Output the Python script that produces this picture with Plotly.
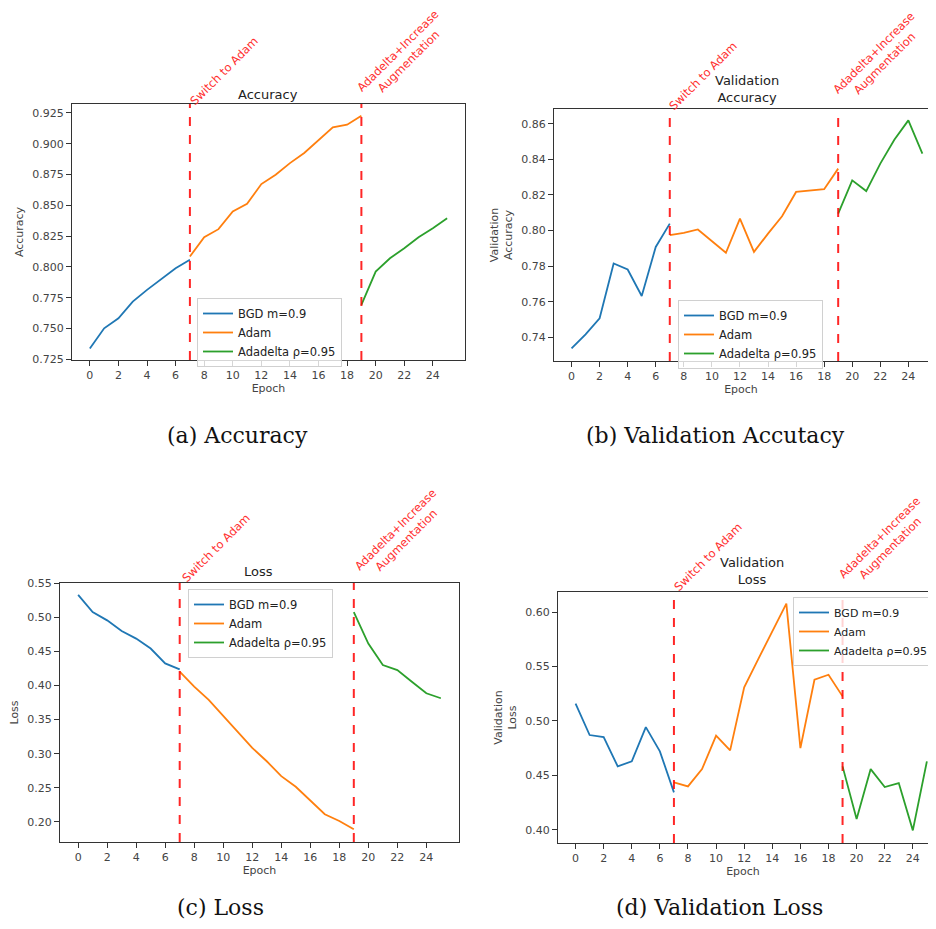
"""Four-panel training history figure (accuracy / loss) rebuilt with Plotly."""
import plotly.graph_objects as go

# the page body keeps its default 8px margin; size the figure to fit inside it
OFF = 8
W, H = 936 - 2 * OFF, 929 - 2 * OFF

# ---- data -------------------------------------------------------------
epochs_bgd = [0, 1, 2, 3, 4, 5, 6, 7]
epochs_adam = [7, 8, 9, 10, 11, 12, 13, 14, 15, 16, 17, 18, 19]
epochs_adadelta = [19, 20, 21, 22, 23, 24, 25]

acc_bgd = [0.7339, 0.7502, 0.7583, 0.7719, 0.7814, 0.7900, 0.7990, 0.8058]
acc_adam = [0.8085, 0.8242, 0.8307, 0.8451, 0.8513, 0.8673, 0.8749,
            0.8843, 0.8925, 0.9033, 0.9133, 0.9155, 0.9228]
acc_adadelta = [0.7692, 0.7963, 0.8071, 0.8152, 0.8242, 0.8315, 0.8396]

val_acc_bgd = [0.7338, 0.7417, 0.7507, 0.7815, 0.7781, 0.7632, 0.7908, 0.8039]
val_acc_adam = [0.7974, 0.7987, 0.8006, 0.7942, 0.7875, 0.8067, 0.7880,
                0.7983, 0.8080, 0.8217, 0.8226, 0.8232, 0.8348]
val_acc_adadelta = [0.8095, 0.8282, 0.8222, 0.8376, 0.8510, 0.8619, 0.8432]

loss_bgd = [0.5330, 0.5077, 0.4955, 0.4800, 0.4688, 0.4542, 0.4324, 0.4236]
loss_adam = [0.4202, 0.3983, 0.3789, 0.3555, 0.3327, 0.3084, 0.2889,
             0.2671, 0.2515, 0.2306, 0.2112, 0.2014, 0.1893]
loss_adadelta = [0.5077, 0.4615, 0.4299, 0.4226, 0.4056, 0.3886, 0.3813]

val_loss_bgd = [0.5158, 0.4870, 0.4851, 0.4582, 0.4628, 0.4943, 0.4720, 0.4343]
val_loss_adam = [0.4435, 0.4398, 0.4557, 0.4864, 0.4729, 0.5308, 0.5568,
                 0.5828, 0.6077, 0.4750, 0.5378, 0.5424, 0.5225]
val_loss_adadelta = [0.4582, 0.4098, 0.4557, 0.4392, 0.4429, 0.3994, 0.4628]

series_names = ["BGD m=0.9", "Adam", "Adadelta ρ=0.95"]
switch_epochs = [7, 19]
switch_labels = ["Switch to Adam", "Adadelta+Increase<br>Augmentation"]
x_ticks = list(range(0, 26, 2))

COLORS = ["#1f77b4", "#ff7f0e", "#2ca02c"]


def px_x(x):
    """Screen pixel column -> paper x."""
    return min(max((x - OFF) / W, 0), 1)


def px_y(y):
    """Screen pixel row -> paper y."""
    return min(max(1 - (y - OFF) / H, 0), 1)


# panel geometry in screen pixels: (left, right, top, bottom) and axis ranges.
# The right-hand panels run off the edge of the original image, so their
# x range stops where the visible part ends and no right frame is drawn.
PANELS = [
    dict(box=(72, 465, 104, 360), xr=[-1.25, 26.25], yr=[0.7245, 0.9323],
         dtick=0.025, fmt=".3f", title="Accuracy", title_xy=(268, 94),
         ylabel="Accuracy", data=(acc_bgd, acc_adam, acc_adadelta),
         legend=(197, 298, 11.5), notes=[(224, 71), (403, 57)], clipped=False,
         caption="(a) Accuracy", caption_xy=(237, 435)),
    dict(box=(554, 928, 109, 361), xr=[-1.25, 25.4], yr=[0.7267, 0.8683],
         dtick=0.02, fmt=".2f", title="Validation<br>Accuracy", title_xy=(747, 89),
         ylabel="Validation<br>Accuracy", data=(val_acc_bgd, val_acc_adam, val_acc_adadelta),
         legend=(678, 300, 11.5), notes=[(703, 76), (879, 59)], clipped=True,
         caption="(b) Validation Accutacy", caption_xy=(715, 435)),
    dict(box=(60, 459, 583, 842), xr=[-1.25, 26.25], yr=[0.1705, 0.5503],
         dtick=0.05, fmt=".2f", title="Loss", title_xy=(259, 571),
         ylabel="Loss", data=(loss_bgd, loss_adam, loss_adadelta),
         legend=(188, 589, 11.5), notes=[(216, 548), (400, 535)], clipped=False,
         caption="(c) Loss", caption_xy=(220, None)),
    dict(box=(558, 928, 592, 843), xr=[-1.25, 25.08], yr=[0.3878, 0.6184],
         dtick=0.05, fmt=".2f", title="Validation<br>Loss", title_xy=(752, 571),
         ylabel="Validation<br>Loss", data=(val_loss_bgd, val_loss_adam, val_loss_adadelta),
         legend=(793, 597, 11), notes=[(708, 557), (884, 543)], clipped=True,
         caption="(d) Validation Loss", caption_xy=(719, None)),
]

fig = go.Figure()
annotations = []
shapes = []
layout_axes = {}

for i, p in enumerate(PANELS):
    k = "" if i == 0 else str(i + 1)
    xa, ya = "x" + k, "y" + k
    leg = "legend" + k
    left, right, top, bottom = p["box"]

    for j, (xs, ys) in enumerate(zip([epochs_bgd, epochs_adam, epochs_adadelta], p["data"])):
        fig.add_trace(go.Scatter(
            x=xs, y=ys, mode="lines", name=series_names[j],
            line=dict(color=COLORS[j], width=1.8),
            xaxis=xa, yaxis=ya, legend=leg, showlegend=True,
        ))

    axis_common = dict(
        showgrid=False, zeroline=False, showline=True, linecolor="#333",
        linewidth=1, ticks="outside", ticklen=5, tickcolor="#333",
        automargin=False,
        tickfont=dict(family="DejaVu Sans", size=11, color="#444"),
    )
    layout_axes["xaxis" + k] = dict(
        axis_common, mirror=True, domain=[px_x(left), px_x(right)], range=p["xr"],
        anchor=ya, tickvals=x_ticks,
        title=dict(text="Epoch", standoff=2,
                   font=dict(family="DejaVu Sans", size=11, color="#444")),
    )
    layout_axes["yaxis" + k] = dict(
        axis_common, mirror=not p["clipped"], domain=[px_y(bottom), px_y(top)],
        range=p["yr"], anchor=xa, dtick=p["dtick"], tick0=0, tickformat=p["fmt"],
        title=dict(text=p["ylabel"], standoff=6,
                   font=dict(family="DejaVu Sans", size=11, color="#444")),
    )

    # red dashed markers where the optimiser switched
    for e in switch_epochs:
        shapes.append(dict(type="line", xref=xa, yref=ya + " domain",
                           x0=e, x1=e, y0=0, y1=1,
                           line=dict(color="rgba(255,0,0,0.85)", width=2, dash="dash")))

    for (cx, cy), txt in zip(p["notes"], switch_labels):
        annotations.append(dict(
            x=px_x(cx), y=px_y(cy), xref="paper", yref="paper", text=txt,
            showarrow=False, textangle=-45, xanchor="center", yanchor="middle",
            font=dict(family="DejaVu Sans", size=11.5, color="#ff3030"),
        ))

    tx, ty = p["title_xy"]
    annotations.append(dict(
        x=px_x(tx), y=px_y(ty), xref="paper", yref="paper", text=p["title"],
        showarrow=False, xanchor="center", yanchor="middle",
        font=dict(family="DejaVu Sans", size=13, color="#222"),
    ))

    # sub-figure captions; the bottom row sits on the lower edge of the page
    cx, cy = p["caption_xy"]
    annotations.append(dict(
        x=px_x(cx), y=px_y(cy) if cy is not None else 0,
        xref="paper", yref="paper", text=p["caption"], showarrow=False,
        xanchor="center", yanchor="middle" if cy is not None else "bottom",
        borderpad=0,
        font=dict(family="DejaVu Serif", size=22, color="#111"),
    ))

    lx, ly, lsize = p["legend"]
    layout_axes[leg] = dict(
        x=px_x(lx), y=px_y(ly), xanchor="left", yanchor="top",
        bgcolor="rgba(255,255,255,0.8)", bordercolor="#d0d0d0", borderwidth=1,
        font=dict(family="DejaVu Sans", size=lsize, color="#222"),
        tracegroupgap=0, itemwidth=30,
    )

fig.update_layout(
    width=W, height=H,
    # keep the panels exactly where they are put, even if a legend overflows
    margin=dict(l=0, r=0, t=0, b=0, autoexpand=False),
    paper_bgcolor="white", plot_bgcolor="white",
    annotations=annotations, shapes=shapes,
    **layout_axes,
)

fig.write_html("out.html")
